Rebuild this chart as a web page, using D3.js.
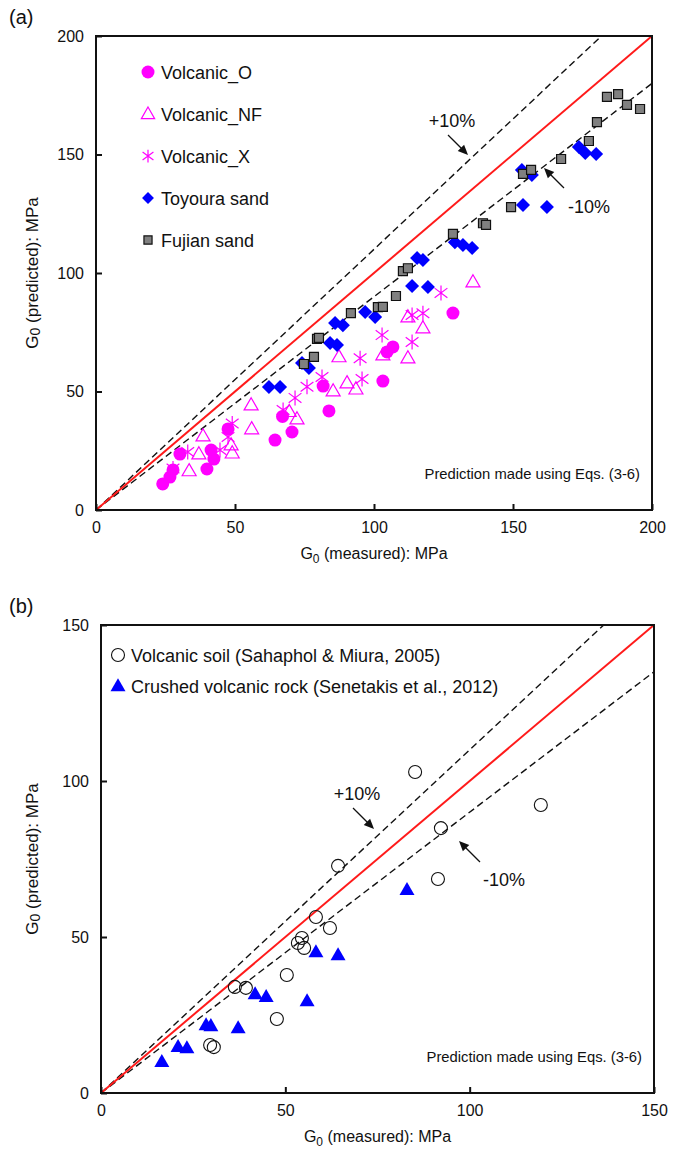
<!DOCTYPE html>
<html>
<head>
<meta charset="utf-8">
<script src="https://cdn.jsdelivr.net/npm/d3@7"></script>
<style>
  body { margin: 0; background: #fff; }
  svg text { font-family: "Liberation Sans", Arial, sans-serif; fill: #111; }
</style>
</head>
<body>
<div id="chart"></div>
<script>
// ---- data, panel (a): [G0 measured, G0 predicted] in MPa
const volcanicO = [[24,11],[26.6,13.9],[27.7,16.9],[30.2,23.6],[39.9,17.3],[41.4,25.3],[42.4,21.5],
  [47.5,34.2],[64.4,29.5],[67.1,39.5],[70.5,32.9],[81.7,52.3],[83.8,41.8],[103.2,54.4],[104.7,66.7],
  [106.8,68.8],[128.4,83.1]];
const volcanicNF = [[33.5,16.5],[37,23.6],[38.5,31.2],[48.6,27.4],[49,24],[56,34.2],[55.8,44.3],
  [72.3,38.4],[69.5,41.5],[85.3,50.2],[87.4,64.6],[90.3,53.6],[93.5,51],[103.2,65.4],[112.2,64.1],
  [112.2,81.4],[117.6,76.8],[135.6,96.2]];
const volcanicX = [[27.7,17.5],[33,24.5],[44.6,25.3],[47.5,30.8],[49,36.5],[67.3,42.2],[71.6,47.3],
  [75.9,52],[81.3,56.1],[95,64],[95.7,55.3],[102.9,73.8],[113.7,70.9],[113.7,82.3],[117.6,83],[124.1,91.6]];
const toyoura = [[62.2,51.9],[66.2,51.9],[74.1,62],[76.6,59.9],[84.2,70.5],[86.7,69.6],[86,78.9],
  [88.8,78],[96.8,83.5],[100.4,81.4],[113.7,94.5],[119.4,94.1],[115.5,106.3],[117.6,105.5],
  [129.1,113],[132,111.8],[135.3,110.5],[153.2,143.5],[156.8,141.4],[153.6,128.7],[162.2,127.8],
  [173.7,153.2],[176,150.6],[179.9,150.2]];
const fujian = [[74.8,61.6],[78.4,64.6],[79.5,72.2],[80.2,72.6],[91.7,83.1],[101.4,85.6],[103.2,85.7],
  [107.9,90.3],[110.4,100.8],[112.2,102],[128.4,116.5],[139.2,121],[140.3,120.3],[149.3,127.8],
  [153.6,141.8],[156.5,143.5],[167.3,148.1],[177.3,155.7],[180.2,163.7],[183.8,174.3],[187.8,175.5],
  [191,170.9],[195.7,169.2]];

// ---- data, panel (b)
const volcanicSoil = [[64.3,72.8],[58.3,56.4],[62.1,52.9],[54.5,49.7],[53.4,48.1],[55.1,46.5],
  [50.4,37.8],[36.3,34],[39.3,33.7],[47.7,23.7],[29.6,15.4],[30.6,14.7],[85.2,102.9],[119.3,92.3],
  [92.2,84.9],[91.4,68.6]];
const crushedRock = [[16.5,10],[20.9,14.8],[23.3,14.4],[28.5,21.8],[29.8,21.5],[37.2,20.8],[41.8,31.7],
  [44.8,30.8],[55.9,29.5],[58.3,45.2],[64.3,44.2],[83,65.1]];

const ticksA = [0, 50, 100, 150, 200];
const ticksB = [0, 50, 100, 150];
const legendA = ["Volcanic_O", "Volcanic_NF", "Volcanic_X", "Toyoura sand", "Fujian sand"];
const legendB = ["Volcanic soil (Sahaphol & Miura, 2005)", "Crushed volcanic rock (Senetakis et al., 2012)"];
const bandFactors = [1.1, 0.9];

// ---- config
const W = 681, H = 1154;
const MAGENTA = "#ff00ff", BLUE = "#0000ff", GREY = "#808080";

const svg = d3.select("#chart").append("svg")
  .attr("width", W).attr("height", H)
  .attr("viewBox", [0, 0, W, H]);

// marker drawing helpers
function markerPath(type, s) {
  const r = s / 2;
  if (type === "circle") return d3.symbol(d3.symbolCircle, Math.PI * r * r)();
  if (type === "triangle") {
    const h = s * 0.87;
    return `M0,${-h * 0.6}L${r},${h * 0.4}L${-r},${h * 0.4}Z`;
  }
  if (type === "diamond") return `M0,${-r}L${r},0L0,${r}L${-r},0Z`;
  if (type === "square") return `M${-r},${-r}H${r}V${r}H${-r}Z`;
  if (type === "asterisk") {
    const a = r * 0.85;
    return `M0,${-r}V${r}M${-a},${-a * 0.75}L${a},${a * 0.75}M${-a},${a * 0.75}L${a},${-a * 0.75}`;
  }
}

const styles = {
  volO: { type: "circle", size: 13, fill: MAGENTA, stroke: "none", sw: 0 },
  volNF: { type: "triangle", size: 14, fill: "none", stroke: MAGENTA, sw: 1.2 },
  volX: { type: "asterisk", size: 15, fill: "none", stroke: MAGENTA, sw: 1.2 },
  toy: { type: "diamond", size: 14, fill: BLUE, stroke: "none", sw: 0 },
  fuj: { type: "square", size: 9, fill: GREY, stroke: "#111", sw: 1.2 },
  soil: { type: "circle", size: 13, fill: "none", stroke: "#111", sw: 1.1 },
  rock: { type: "triangle", size: 15, fill: BLUE, stroke: "none", sw: 0 }
};

function drawPanel(cfg) {
  const g = svg.append("g");
  const x = d3.scaleLinear().domain([0, cfg.max]).range([cfg.left, cfg.right]);
  const y = d3.scaleLinear().domain([0, cfg.max]).range([cfg.bottom, cfg.top]);

  const clipId = "clip-" + cfg.name;
  svg.append("clipPath").attr("id", clipId)
    .append("rect")
    .attr("x", cfg.left).attr("y", cfg.top)
    .attr("width", cfg.right - cfg.left).attr("height", cfg.bottom - cfg.top);

  // reference lines
  const lines = g.append("g").attr("clip-path", `url(#${clipId})`);
  bandFactors.forEach(f => {
    lines.append("line")
      .attr("x1", x(0)).attr("y1", y(0))
      .attr("x2", x(cfg.max)).attr("y2", y(cfg.max * f))
      .attr("stroke", "#111").attr("stroke-width", 1.4)
      .attr("stroke-dasharray", "7,4");
  });
  lines.append("line")
    .attr("x1", x(0)).attr("y1", y(0))
    .attr("x2", x(cfg.max)).attr("y2", y(cfg.max))
    .attr("stroke", "#ff1a1a").attr("stroke-width", 2);

  // points
  cfg.series.forEach(s => {
    const st = styles[s.style];
    g.append("g").selectAll("path")
      .data(s.data)
      .join("path")
      .attr("d", markerPath(st.type, st.size))
      .attr("transform", d => `translate(${x(d[0])},${y(d[1])})`)
      .attr("fill", st.fill)
      .attr("stroke", st.stroke)
      .attr("stroke-width", st.sw);
  });

  // frame
  g.append("rect")
    .attr("x", cfg.left).attr("y", cfg.top)
    .attr("width", cfg.right - cfg.left).attr("height", cfg.bottom - cfg.top)
    .attr("fill", "none").attr("stroke", "#111").attr("stroke-width", 2);

  // axes, ticks inward
  const xAxis = d3.axisBottom(x).tickValues(cfg.ticks).tickSizeInner(-6).tickSizeOuter(0).tickPadding(12);
  const yAxis = d3.axisLeft(y).tickValues(cfg.ticks).tickSizeInner(-6).tickSizeOuter(0).tickPadding(12);

  g.append("g")
    .attr("transform", `translate(0,${cfg.bottom})`)
    .call(xAxis)
    .call(a => a.select(".domain").remove())
    .call(a => a.selectAll(".tick line").attr("stroke", "#111").attr("stroke-width", 2))
    .call(a => a.selectAll(".tick text").attr("font-size", 16).attr("font-family", "Liberation Sans, Arial, sans-serif").attr("fill", "#111"));

  g.append("g")
    .attr("transform", `translate(${cfg.left},0)`)
    .call(yAxis)
    .call(a => a.select(".domain").remove())
    .call(a => a.selectAll(".tick line").attr("stroke", "#111").attr("stroke-width", 2))
    .call(a => a.selectAll(".tick text").attr("font-size", 16).attr("font-family", "Liberation Sans, Arial, sans-serif").attr("fill", "#111"));

  // axis titles
  const xt = g.append("text")
    .attr("x", (cfg.left + cfg.right) / 2).attr("y", cfg.bottom + 49)
    .attr("text-anchor", "middle").attr("font-size", 16);
  xt.append("tspan").text("G");
  xt.append("tspan").attr("font-size", 12).attr("dy", 4).text("0");
  xt.append("tspan").attr("dy", -4).text(" (measured): MPa");

  const yt = g.append("text")
    .attr("transform", `translate(${cfg.yTitleX},${(cfg.top + cfg.bottom) / 2}) rotate(-90)`)
    .attr("text-anchor", "middle").attr("font-size", 17);
  yt.append("tspan").text("G");
  yt.append("tspan").attr("font-size", 14).attr("dy", 2).text("0");
  yt.append("tspan").attr("dy", -2).text(" (predicted): MPa");

  // panel letter
  g.append("text").attr("x", 9).attr("y", cfg.top - 12)
    .attr("font-size", 20).text(cfg.letter);

  // note
  g.append("text").attr("x", cfg.right - 12).attr("y", cfg.bottom - 31)
    .attr("text-anchor", "end").attr("font-size", 14.8)
    .text("Prediction made using Eqs. (3-6)");

  // legend
  cfg.legend.forEach((lab, i) => {
    const st = styles[cfg.series[i].style];
    const ly = cfg.legY + i * cfg.legStep;
    g.append("path")
      .attr("d", markerPath(st.type, st.size * cfg.legScale[i]))
      .attr("transform", `translate(${cfg.legX},${ly})`)
      .attr("fill", st.fill).attr("stroke", st.stroke).attr("stroke-width", st.sw);
    g.append("text").attr("x", cfg.legX + 13).attr("y", ly + 6.5)
      .attr("font-size", 18).text(lab);
  });

  // +/-10% annotations
  cfg.notes.forEach(n => {
    g.append("text").attr("x", n.tx).attr("y", n.ty)
      .attr("text-anchor", "middle").attr("font-size", 18).text(n.label);
    const ang = Math.atan2(n.y2 - n.y1, n.x2 - n.x1);
    g.append("line")
      .attr("x1", n.x1).attr("y1", n.y1)
      .attr("x2", n.x2 - 7 * Math.cos(ang)).attr("y2", n.y2 - 7 * Math.sin(ang))
      .attr("stroke", "#111").attr("stroke-width", 1.3);
    const h = 10, w = 4.5;
    const bx = n.x2 - h * Math.cos(ang), by = n.y2 - h * Math.sin(ang);
    g.append("path")
      .attr("d", `M${n.x2},${n.y2}L${bx - w * Math.sin(ang)},${by + w * Math.cos(ang)}L${bx + w * Math.sin(ang)},${by - w * Math.cos(ang)}Z`)
      .attr("fill", "#111");
  });
}

drawPanel({
  name: "a", letter: "(a)", max: 200, ticks: ticksA,
  left: 96, right: 652, top: 36, bottom: 510, yTitleX: 38,
  series: [
    { data: volcanicO, style: "volO" },
    { data: volcanicNF, style: "volNF" },
    { data: volcanicX, style: "volX" },
    { data: toyoura, style: "toy" },
    { data: fujian, style: "fuj" }
  ],
  legend: legendA, legX: 148, legY: 72, legStep: 42,
  legScale: [1, 0.95, 0.85, 0.85, 0.9],
  notes: [
    { label: "+10%", tx: 452, ty: 127, x1: 448, y1: 135, x2: 468, y2: 155 },
    { label: "-10%", tx: 589, ty: 213, x1: 564, y1: 188, x2: 544, y2: 168 }
  ]
});

drawPanel({
  name: "b", letter: "(b)", max: 150, ticks: ticksB,
  left: 101, right: 654, top: 625, bottom: 1093, yTitleX: 38,
  series: [
    { data: volcanicSoil, style: "soil" },
    { data: crushedRock, style: "rock" }
  ],
  legend: legendB, legX: 118, legY: 655, legStep: 31,
  legScale: [1, 1],
  notes: [
    { label: "+10%", tx: 357, ty: 800, x1: 353, y1: 808, x2: 374, y2: 829 },
    { label: "-10%", tx: 504, ty: 886, x1: 480, y1: 862, x2: 459, y2: 841 }
  ]
});
</script>
</body>
</html>
